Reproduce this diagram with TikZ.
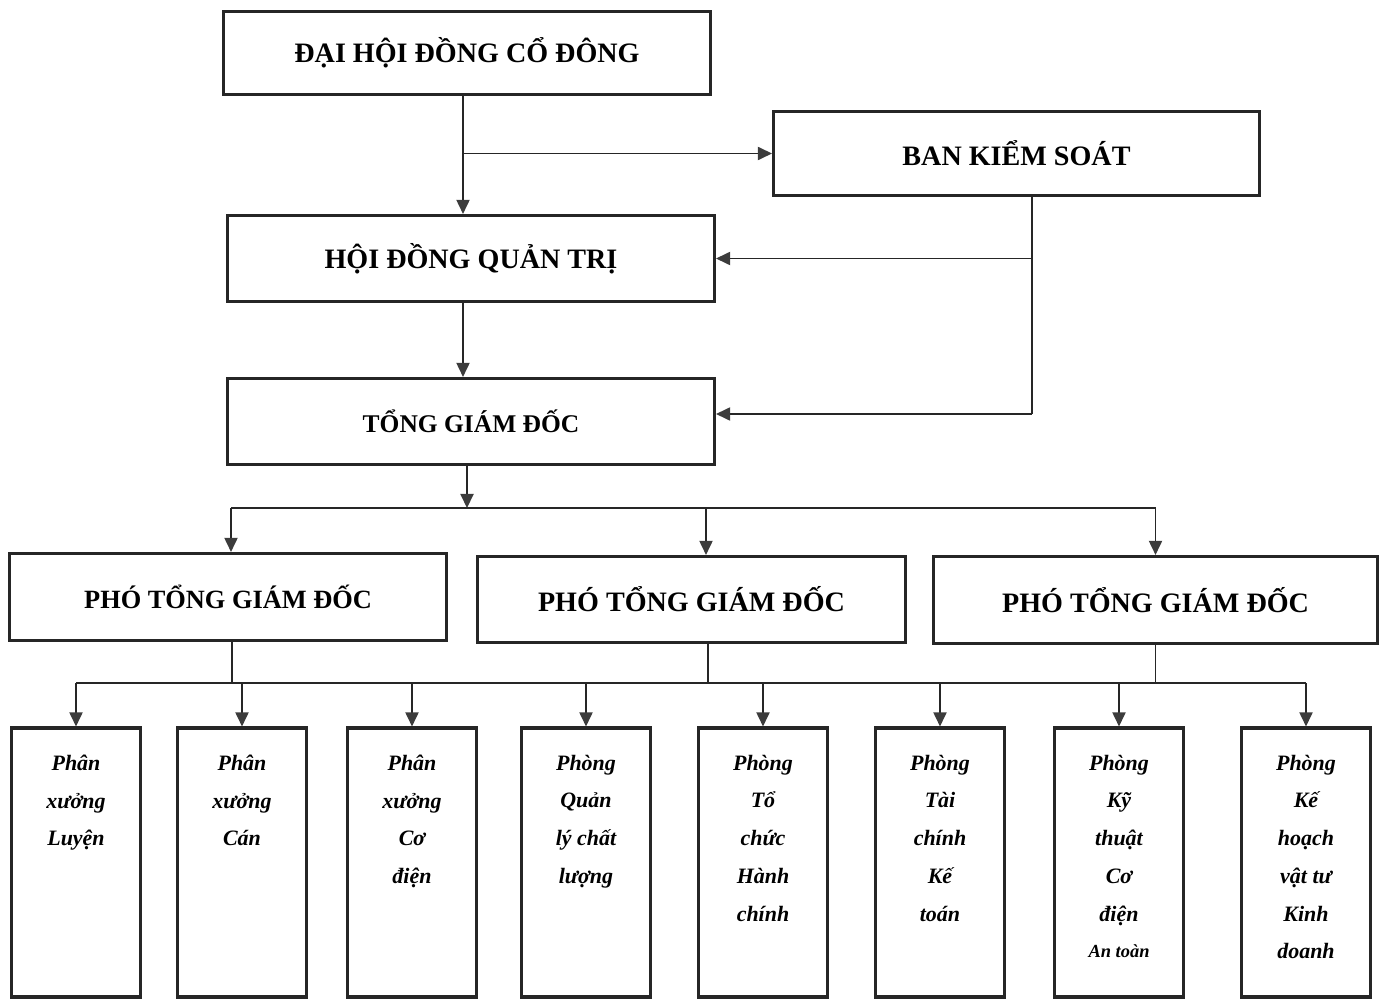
\documentclass[tikz,border=0pt]{standalone}
\usepackage{fontspec}
\setmainfont{Liberation Serif}
\usepackage{tikz}
\usetikzlibrary{arrows.meta, positioning}
\definecolor{mydark}{HTML}{262626}
\definecolor{mytip}{HTML}{3C3C3C}
\tikzset{mybox/.style = {draw=mydark,line width=1.8pt,inner sep=0pt,font=\bfseries\fontsize{16}{19}\selectfont},
	mydept/.style = {draw=mydark,line width=1.8pt,minimum width=2.58cm,minimum height=5.38cm},
	mydtext/.style = {inner sep=0pt,align=center,font=\bfseries\itshape\fontsize{12.5}{21.5}\selectfont},
	myline/.style = {draw=mydark,line width=0.8pt},
	myarrow/.style = {myline,-{Triangle[length=8pt,width=7.5pt,fill=mytip,color=mytip]}}}
\NewDocumentCommand{\fdept}{m m m}{%
	\node[mydept] (#1) at (#2,862.5) {};
	\node[mydtext,below=0.56cm of #1.north] (#1-t) {#3};
}

\begin{document}
\begin{tikzpicture}[x=0.02cm,y=-0.02cm]
\useasboundingbox (0,0) rectangle (1386,1000);
\node[mybox,minimum width=9.74cm,minimum height=1.66cm] (dhdcd) at (467,53) {ĐẠI HỘI ĐỒNG CỔ ĐÔNG};
\node[mybox,minimum width=9.72cm,minimum height=1.68cm] (bks) at (1016.5,153.5) {BAN KIỂM SOÁT};
\node[mybox,minimum width=9.74cm,minimum height=1.72cm] (hdqt) at (471,258.5) {HỘI ĐỒNG QUẢN TRỊ};
\node[mybox,minimum width=9.74cm,minimum height=1.72cm,font=\bfseries\fontsize{14.5}{17}\selectfont] (tgd) at (471,421.5) {TỔNG GIÁM ĐỐC};
\node[mybox,minimum width=8.74cm,minimum height=1.74cm,font=\bfseries\fontsize{15}{18}\selectfont] (pgdA) at (228,597) {PHÓ TỔNG GIÁM ĐỐC};
\node[mybox,minimum width=8.56cm,minimum height=1.72cm] (pgdB) at (691.5,599.5) {PHÓ TỔNG GIÁM ĐỐC};
\node[mybox,minimum width=8.88cm,minimum height=1.74cm] (pgdC) at (1155.5,600) {PHÓ TỔNG GIÁM ĐỐC};

\fdept{dA}{76}{Phân\\xưởng\\Luyện}
\fdept{dB}{242}{Phân\\xưởng\\Cán}
\fdept{dC}{412}{Phân\\xưởng\\Cơ\\điện}
\fdept{dD}{586}{Phòng\\Quản\\lý chất\\lượng}
\fdept{dE}{763}{Phòng\\Tổ\\chức\\Hành\\chính}
\fdept{dF}{940}{Phòng\\Tài\\chính\\Kế\\toán}
\fdept{dG}{1119}{Phòng\\Kỹ\\thuật\\Cơ\\điện\\[-1pt]{\fontsize{10.5}{19}\selectfont An toàn}}
\fdept{dH}{1306}{Phòng\\Kế\\hoạch\\vật tư\\Kinh\\doanh}

\coordinate (ks) at (1032,414);
\coordinate (busA) at (467,508);
\coordinate (busB) at (708,683);

\draw[myarrow] ([xshift=-0.08cm]dhdcd.south) -- ([xshift=-0.08cm]dhdcd.south |- hdqt.north);
\draw[myarrow] ([xshift=-0.08cm]dhdcd.south |- bks.west) -- (bks.west);
\draw[myline] (bks.south -| ks) -- (ks);
\draw[myarrow] (ks |- hdqt.east) -- (hdqt.east);
\draw[myarrow] (ks) -- (ks -| tgd.east);
\draw[myarrow] ([xshift=-0.16cm]hdqt.south) -- ([xshift=-0.16cm]hdqt.south |- tgd.north);

\draw[myarrow] ([xshift=-0.08cm]tgd.south) -- ([xshift=-0.08cm]tgd.south |- busA);
\draw[myline] ([xshift=0.06cm]pgdA.north |- busA) -- (pgdC.north |- busA);
\draw[myarrow] ([xshift=0.06cm]pgdA.north |- busA) -- ([xshift=0.06cm]pgdA.north);
\draw[myarrow] ([xshift=0.29cm]pgdB.north |- busA) -- ([xshift=0.29cm]pgdB.north);
\draw[myarrow] (pgdC.north |- busA) -- (pgdC.north);

\draw[myline] ([xshift=0.08cm]pgdA.south) -- ([xshift=0.08cm]pgdA.south |- busB);
\draw[myline] (pgdB.south -| busB) -- (busB);
\draw[myline] (pgdC.south) -- (pgdC.south |- busB);
\draw[myline] (dA.north |- busB) -- (dH.north |- busB);
\draw[myarrow] (dA.north |- busB) -- (dA.north);
\draw[myarrow] (dB.north |- busB) -- (dB.north);
\draw[myarrow] (dC.north |- busB) -- (dC.north);
\draw[myarrow] (dD.north |- busB) -- (dD.north);
\draw[myarrow] (dE.north |- busB) -- (dE.north);
\draw[myarrow] (dF.north |- busB) -- (dF.north);
\draw[myarrow] (dG.north |- busB) -- (dG.north);
\draw[myarrow] (dH.north |- busB) -- (dH.north);
\end{tikzpicture}
\end{document}
